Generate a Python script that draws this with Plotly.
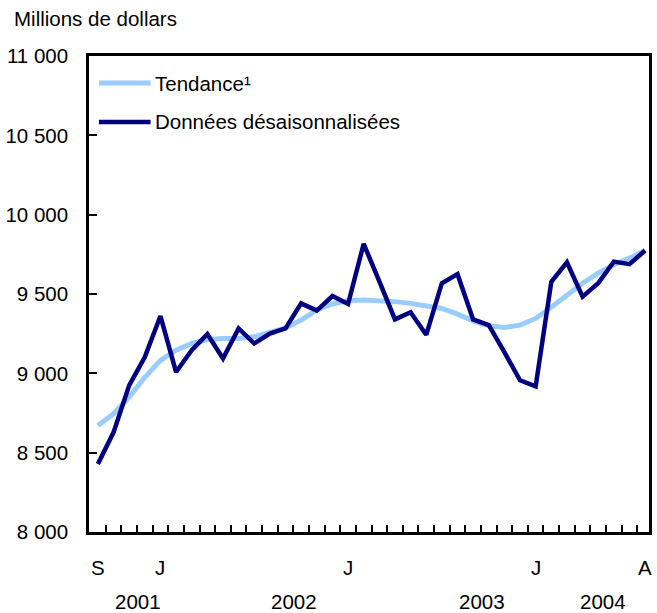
import plotly.graph_objects as go

months = ["S01","O01","N01","D01","J02","F02","M02","A02","M02","J02","J02","A02",
          "S02","O02","N02","D02","J03","F03","M03","A03","M03","J03","J03","A03",
          "S03","O03","N03","D03","J04","F04","M04","A04","M04","J04","J04","A04"]
x_idx = list(range(len(months)))

trend = [8671, 8745, 8850, 8975, 9082, 9146, 9188, 9213, 9219, 9219, 9230, 9255,
         9287, 9335, 9399, 9437, 9459, 9462, 9459, 9452, 9441, 9426, 9409, 9373,
         9331, 9300, 9289, 9304, 9346, 9416, 9494, 9568, 9631, 9684, 9726, 9774]

sa = [8429, 8628, 8924, 9103, 9361, 9008, 9146, 9247, 9093, 9283, 9188, 9251,
      9283, 9441, 9395, 9487, 9437, 9816, 9580, 9340, 9385, 9243, 9568, 9625,
      9340, 9304, 9133, 8956, 8918, 9576, 9700, 9483, 9568, 9704, 9688, 9774]

series_names = ["Tendance¹", "Données désaisonnalisées"]
series_colors = ["#99CCFF", "#000080"]
series_widths = [5, 4.5]

month_label_pos = [0, 4, 16, 28, 35]
month_labels = ["S", "J", "J", "J", "A"]
year_label_pos = [2.55, 12.54, 24.57, 32.3]
year_labels = ["2001", "2002", "2003", "2004"]

y_tickvals = [8000, 8500, 9000, 9500, 10000, 10500, 11000]
y_ticktext = ["8 000", "8 500", "9 000", "9 500", "10 000", "10 500", "11 000"]

FONT = "Liberation Sans, Arial, sans-serif"
FS = 20.5

ML, MR, MT, MB = 88, 5, 56, 81
W, H = 657, 613
PW, PH = W - ML - MR, H - MT - MB

fig = go.Figure()
for vals, nm, col, w in zip([trend, sa], series_names, series_colors, series_widths):
    fig.add_trace(go.Scatter(x=x_idx, y=vals, mode="lines", name=nm,
                             showlegend=False, line=dict(color=col, width=w)))

annotations = []
shapes = []
for p, t in zip(month_label_pos, month_labels):
    annotations.append(dict(x=p, y=0, xref="x", yref="paper", yshift=-35,
                            text=t, showarrow=False, xanchor="center", yanchor="middle",
                            font=dict(size=FS, color="black", family=FONT)))
for p, t in zip(year_label_pos, year_labels):
    annotations.append(dict(x=p, y=0, xref="x", yref="paper", yshift=-69,
                            text=t, showarrow=False, xanchor="center", yanchor="middle",
                            font=dict(size=FS, color="black", family=FONT)))
annotations.append(dict(x=(10 - ML) / PW, y=1, xref="paper", yref="paper", yshift=38,
                        text="Millions de dollars", showarrow=False,
                        xanchor="left", yanchor="middle",
                        font=dict(size=FS, color="black", family=FONT)))

# legend drawn by hand (long line samples as in the reference)
legend_rows = [27, 66]  # px below plot top
for row, nm, col, w in zip(legend_rows, series_names, series_colors, series_widths):
    yp = 1 - row / PH
    shapes.append(dict(type="line", xref="paper", yref="paper",
                       x0=10 / PW, x1=62 / PW, y0=yp, y1=yp,
                       line=dict(color=col, width=w)))
    annotations.append(dict(x=64 / PW, y=yp, xref="paper", yref="paper",
                            text=nm, showarrow=False, xanchor="left", yanchor="middle",
                            font=dict(size=FS, color="black", family=FONT)))

fig.update_layout(
    width=W, height=H,
    margin=dict(l=ML, r=MR, t=MT, b=MB),
    paper_bgcolor="white", plot_bgcolor="white",
    font=dict(family=FONT, size=FS, color="black"),
    showlegend=False,
    annotations=annotations,
    shapes=shapes,
    xaxis=dict(range=[-0.57, 35.25], showgrid=False, zeroline=False,
               showline=True, linecolor="black", linewidth=2.5, mirror=True,
               tickvals=[i + 0.5 for i in range(35)], ticktext=[""] * 35,
               ticks="inside", ticklen=7, tickwidth=2, tickcolor="black"),
    yaxis=dict(range=[8000, 11000], showgrid=False, zeroline=False,
               showline=True, linecolor="black", linewidth=2.5, mirror=True,
               tickvals=y_tickvals, ticktext=y_ticktext,
               ticks="inside", ticklen=8, tickwidth=2, tickcolor="black",
               ticklabelstandoff=14,
               tickfont=dict(size=FS, family=FONT, color="black")),
)

fig.write_html("out.html",
               config={"displayModeBar": False},
               post_script="document.body.style.margin='0';document.body.style.overflow='hidden';")
